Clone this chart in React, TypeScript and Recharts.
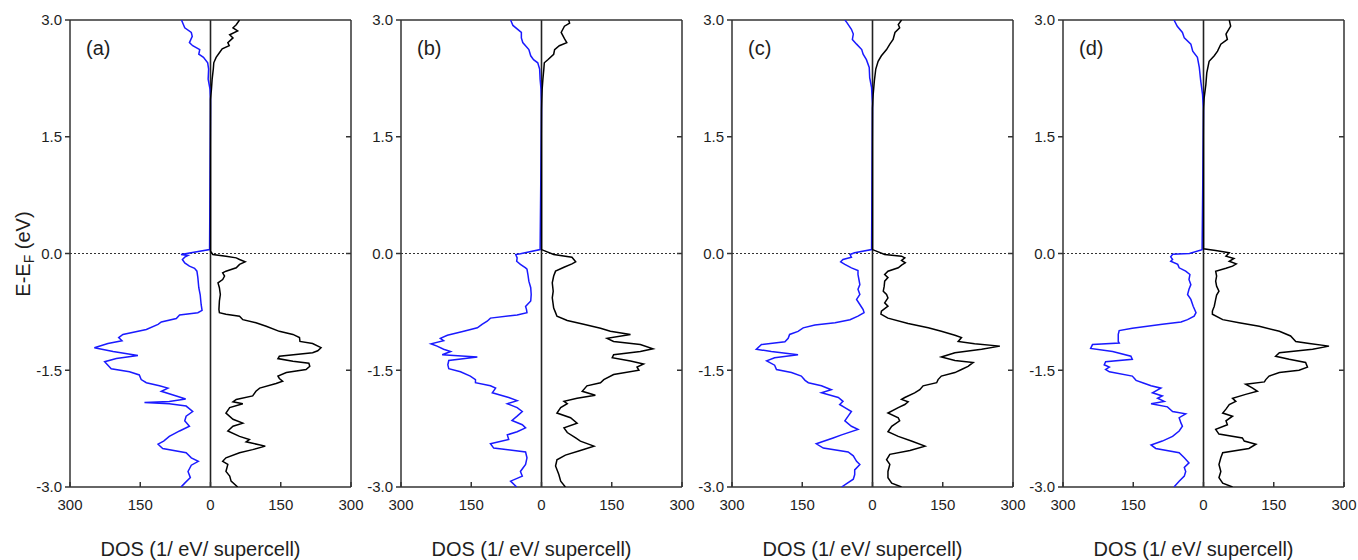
import React from 'react';
import { ScatterChart, Scatter, XAxis, YAxis, ReferenceLine } from 'recharts';

type Pair = [number, number];

const FONT = '"Liberation Sans", Arial, Helvetica, sans-serif';
const xTicks = [-300, -150, 0, 150, 300];
const yTicks = [-3, -1.5, 0, 1.5, 3];
const innerYTicks = [-1.5, 0, 1.5];
const panelLabels = ['(a)', '(b)', '(c)', '(d)'];
const xAxisTitle = 'DOS (1/ eV/ supercell)';

// [energy (eV), DOS] — spin down (blue, drawn to the left) and spin up (black, to the right)
const aDown: Pair[] = [
  [3.0, 62], [2.9, 55], [2.84, 41], [2.79, 39], [2.71, 45], [2.67, 38], [2.62, 23], [2.56, 25], [2.52, 15], [2.45, 6], [2.37, 4], [2.24, 5], [2.11, 1], [1.98, 0], [1.88, 0],
  [0.05, 2], [-0.013, 63], [-0.026, 48], [-0.047, 55], [-0.077, 60], [-0.12, 55], [-0.163, 45], [-0.19, 34], [-0.227, 29], [-0.31, 27], [-0.44, 25], [-0.53, 22], [-0.655, 20], [-0.73, 18], [-0.76, 27], [-0.79, 66], [-0.835, 73], [-0.88, 105], [-0.91, 112], [-0.976, 137], [-1.04, 187], [-1.08, 196], [-1.12, 189], [-1.156, 219], [-1.21, 248], [-1.26, 208], [-1.31, 155], [-1.35, 201], [-1.39, 226], [-1.435, 219], [-1.48, 212], [-1.52, 173], [-1.56, 152], [-1.62, 148], [-1.66, 137], [-1.7, 109], [-1.73, 91], [-1.77, 105], [-1.83, 73], [-1.87, 53], [-1.9, 88], [-1.915, 141], [-1.93, 88], [-1.96, 52], [-2.03, 38], [-2.09, 52], [-2.15, 55], [-2.22, 45], [-2.28, 66], [-2.35, 88], [-2.41, 100], [-2.45, 112], [-2.505, 102], [-2.56, 52], [-2.625, 41], [-2.67, 26], [-2.72, 41], [-2.8, 48], [-2.88, 43], [-2.95, 55], [-3.0, 63],
];
const aUp: Pair[] = [
  [3.0, 62], [2.94, 55], [2.9, 48], [2.86, 58], [2.81, 41], [2.77, 48], [2.71, 37], [2.67, 40], [2.63, 25], [2.58, 19], [2.52, 12], [2.45, 7], [2.37, 6], [2.24, 3.5], [2.11, 2], [1.98, 0], [1.88, 0],
  [0.03, 0], [-0.013, 5], [-0.034, 33], [-0.056, 55], [-0.077, 62], [-0.107, 74], [-0.14, 62], [-0.184, 55], [-0.227, 33], [-0.248, 26], [-0.29, 30], [-0.334, 26], [-0.377, 16], [-0.44, 19], [-0.527, 21], [-0.61, 19], [-0.72, 18], [-0.76, 19], [-0.78, 33], [-0.805, 62], [-0.85, 69], [-0.89, 97], [-0.934, 119], [-1.0, 147], [-1.04, 176], [-1.08, 190], [-1.13, 191], [-1.156, 218], [-1.21, 236], [-1.25, 229], [-1.276, 218], [-1.32, 147], [-1.35, 144], [-1.383, 176], [-1.41, 210], [-1.45, 212], [-1.49, 204], [-1.53, 162], [-1.575, 144], [-1.606, 147], [-1.64, 154], [-1.67, 140], [-1.73, 105], [-1.77, 97], [-1.83, 90], [-1.875, 55], [-1.906, 48], [-1.93, 69], [-1.98, 41], [-2.05, 33], [-2.13, 48], [-2.18, 69], [-2.22, 48], [-2.28, 37], [-2.35, 62], [-2.39, 83], [-2.42, 76], [-2.475, 117], [-2.52, 90], [-2.56, 62], [-2.625, 33], [-2.67, 26], [-2.71, 37], [-2.8, 33], [-2.86, 41], [-2.925, 44], [-3.0, 58],
];
const bDown: Pair[] = [
  [3.0, 66], [2.93, 61], [2.84, 43], [2.77, 43], [2.71, 40], [2.62, 27], [2.54, 23], [2.49, 17], [2.45, 8], [2.37, 4], [2.24, 3], [2.11, 1], [1.85, 0],
  [0.05, 3], [-0.004, 45], [-0.013, 55], [-0.056, 52], [-0.1, 53], [-0.14, 45], [-0.184, 34], [-0.2, 31], [-0.27, 29], [-0.355, 27], [-0.44, 23], [-0.527, 22], [-0.61, 23], [-0.68, 34], [-0.72, 32], [-0.76, 31], [-0.79, 52], [-0.83, 109], [-0.87, 116], [-0.91, 127], [-0.955, 137], [-1.0, 166], [-1.05, 201], [-1.09, 216], [-1.12, 209], [-1.16, 236], [-1.19, 223], [-1.23, 209], [-1.26, 194], [-1.3, 212], [-1.33, 137], [-1.375, 198], [-1.43, 200], [-1.48, 198], [-1.52, 173], [-1.575, 152], [-1.62, 141], [-1.66, 141], [-1.7, 109], [-1.73, 98], [-1.79, 105], [-1.85, 70], [-1.89, 52], [-1.93, 73], [-1.98, 52], [-2.03, 41], [-2.09, 52], [-2.145, 63], [-2.2, 41], [-2.24, 34], [-2.29, 52], [-2.33, 73], [-2.39, 70], [-2.445, 109], [-2.5, 102], [-2.55, 34], [-2.625, 31], [-2.71, 34], [-2.8, 45], [-2.86, 41], [-2.925, 66], [-3.0, 53],
];
const bUp: Pair[] = [
  [3.0, 58], [2.96, 60], [2.92, 49], [2.84, 42], [2.76, 49], [2.71, 54], [2.67, 38], [2.62, 28], [2.56, 26], [2.49, 13.5], [2.45, 6], [2.37, 5], [2.24, 3], [2.11, 1.4], [1.85, 0],
  [0.05, 0], [-0.013, 26], [-0.047, 65], [-0.077, 69], [-0.107, 73], [-0.133, 65], [-0.176, 48], [-0.227, 30], [-0.29, 26], [-0.377, 23], [-0.484, 25], [-0.57, 23], [-0.7, 26], [-0.76, 30], [-0.805, 33], [-0.86, 55], [-0.91, 90], [-0.96, 126], [-1.0, 147], [-1.04, 190], [-1.09, 140], [-1.13, 154], [-1.17, 211], [-1.225, 238], [-1.26, 211], [-1.3, 154], [-1.34, 151], [-1.38, 190], [-1.42, 218], [-1.46, 204], [-1.5, 208], [-1.555, 154], [-1.62, 133], [-1.66, 126], [-1.7, 97], [-1.77, 87], [-1.82, 115], [-1.86, 76], [-1.9, 48], [-1.93, 55], [-1.98, 41], [-2.05, 33], [-2.11, 62], [-2.18, 76], [-2.24, 48], [-2.3, 55], [-2.37, 73], [-2.41, 83], [-2.475, 112], [-2.53, 83], [-2.59, 51], [-2.65, 33], [-2.73, 30], [-2.84, 37], [-2.925, 41], [-3.0, 51],
];
const cDown: Pair[] = [
  [3.0, 59], [2.97, 55], [2.88, 45], [2.82, 41], [2.75, 43], [2.69, 34], [2.62, 23], [2.56, 20], [2.49, 13], [2.39, 7], [2.26, 6], [2.13, 2], [1.92, 0],
  [0.05, 2], [0.01, 38], [-0.013, 48], [-0.047, 45], [-0.077, 63], [-0.107, 68], [-0.14, 59], [-0.184, 45], [-0.218, 31], [-0.27, 31], [-0.334, 29], [-0.4, 27], [-0.46, 31], [-0.527, 27], [-0.59, 34], [-0.655, 27], [-0.72, 20], [-0.76, 18], [-0.805, 31], [-0.85, 48], [-0.89, 80], [-0.92, 123], [-0.955, 148], [-1.0, 159], [-1.04, 177], [-1.09, 180], [-1.135, 187], [-1.17, 237], [-1.23, 248], [-1.26, 216], [-1.3, 159], [-1.34, 209], [-1.38, 226], [-1.435, 209], [-1.49, 205], [-1.53, 173], [-1.575, 152], [-1.63, 144], [-1.66, 137], [-1.7, 109], [-1.75, 88], [-1.79, 109], [-1.85, 73], [-1.9, 63], [-1.94, 70], [-1.98, 59], [-2.03, 45], [-2.09, 52], [-2.15, 59], [-2.22, 45], [-2.26, 31], [-2.33, 66], [-2.37, 84], [-2.445, 120], [-2.5, 105], [-2.55, 52], [-2.6, 41], [-2.67, 34], [-2.71, 27], [-2.78, 38], [-2.84, 38], [-2.9, 41], [-2.96, 56], [-3.0, 66],
];
const cUp: Pair[] = [
  [3.0, 62], [2.94, 55], [2.9, 58], [2.84, 48], [2.75, 44], [2.69, 37], [2.62, 30], [2.54, 19], [2.47, 12], [2.37, 7], [2.22, 4], [2.04, 1.4], [1.87, 0],
  [0.05, 0], [-0.013, 26], [-0.034, 62], [-0.056, 69], [-0.09, 62], [-0.12, 70], [-0.15, 62], [-0.184, 55], [-0.227, 33], [-0.27, 26], [-0.31, 33], [-0.355, 26], [-0.42, 25], [-0.484, 23], [-0.527, 30], [-0.57, 33], [-0.634, 26], [-0.677, 33], [-0.74, 19], [-0.78, 18], [-0.83, 33], [-0.9, 76], [-0.955, 119], [-1.0, 147], [-1.05, 176], [-1.08, 190], [-1.13, 183], [-1.16, 218], [-1.19, 272], [-1.23, 233], [-1.276, 176], [-1.33, 147], [-1.375, 176], [-1.4, 215], [-1.45, 204], [-1.49, 190], [-1.53, 176], [-1.575, 147], [-1.62, 140], [-1.66, 137], [-1.7, 108], [-1.75, 101], [-1.79, 90], [-1.85, 69], [-1.875, 62], [-1.906, 76], [-1.94, 69], [-1.98, 55], [-2.05, 33], [-2.11, 55], [-2.15, 58], [-2.22, 41], [-2.29, 33], [-2.35, 55], [-2.41, 83], [-2.475, 112], [-2.53, 80], [-2.58, 37], [-2.65, 30], [-2.71, 37], [-2.8, 33], [-2.88, 33], [-2.95, 41], [-3.0, 62],
];
const dDown: Pair[] = [
  [3.0, 63], [2.92, 56], [2.84, 45], [2.77, 41], [2.69, 27], [2.6, 23], [2.52, 13], [2.39, 9], [2.22, 6], [2.04, 2], [1.83, 0],
  [0.05, 3], [0.0, 30], [-0.01, 66], [-0.043, 70], [-0.077, 66], [-0.1, 70], [-0.14, 55], [-0.184, 52], [-0.227, 38], [-0.27, 29], [-0.334, 31], [-0.4, 27], [-0.46, 31], [-0.527, 34], [-0.59, 27], [-0.677, 22], [-0.76, 16], [-0.805, 20], [-0.85, 34], [-0.88, 48], [-0.91, 88], [-0.96, 152], [-0.99, 180], [-1.04, 182], [-1.13, 182], [-1.15, 180], [-1.17, 237], [-1.22, 241], [-1.26, 194], [-1.32, 155], [-1.36, 152], [-1.39, 209], [-1.43, 212], [-1.46, 201], [-1.49, 209], [-1.52, 201], [-1.575, 152], [-1.63, 144], [-1.66, 130], [-1.7, 112], [-1.73, 91], [-1.79, 109], [-1.83, 88], [-1.86, 98], [-1.9, 84], [-1.93, 112], [-1.97, 77], [-2.03, 66], [-2.06, 38], [-2.11, 52], [-2.18, 48], [-2.22, 45], [-2.28, 52], [-2.35, 66], [-2.41, 88], [-2.46, 112], [-2.505, 102], [-2.56, 52], [-2.625, 41], [-2.69, 31], [-2.75, 41], [-2.8, 38], [-2.86, 41], [-2.925, 52], [-3.0, 63],
];
const dUp: Pair[] = [
  [3.0, 55], [2.92, 58], [2.82, 48], [2.75, 51], [2.69, 37], [2.6, 30], [2.54, 23], [2.47, 12], [2.32, 7], [2.17, 5], [2.0, 1.4], [1.83, 0],
  [0.06, 0], [0.04, 26], [0.01, 55], [-0.034, 48], [-0.064, 65], [-0.1, 55], [-0.133, 70], [-0.163, 62], [-0.19, 48], [-0.227, 26], [-0.29, 28], [-0.355, 26], [-0.42, 28], [-0.484, 33], [-0.535, 28], [-0.59, 26], [-0.677, 23], [-0.74, 19], [-0.78, 19], [-0.85, 41], [-0.89, 76], [-0.934, 119], [-1.0, 162], [-1.06, 186], [-1.13, 197], [-1.156, 226], [-1.19, 268], [-1.23, 233], [-1.276, 162], [-1.32, 154], [-1.36, 183], [-1.4, 218], [-1.46, 222], [-1.5, 204], [-1.53, 162], [-1.575, 140], [-1.62, 133], [-1.65, 130], [-1.68, 90], [-1.73, 105], [-1.77, 115], [-1.81, 90], [-1.86, 62], [-1.9, 69], [-1.94, 55], [-2.0, 48], [-2.05, 41], [-2.09, 62], [-2.15, 48], [-2.2, 51], [-2.26, 26], [-2.32, 33], [-2.37, 83], [-2.41, 87], [-2.45, 112], [-2.505, 97], [-2.56, 41], [-2.625, 37], [-2.71, 33], [-2.8, 37], [-2.88, 33], [-2.95, 41], [-3.0, 62],
];

const panels = [
  { label: panelLabels[0], down: aDown, up: aUp },
  { label: panelLabels[1], down: bDown, up: bUp },
  { label: panelLabels[2], down: cDown, up: cUp },
  { label: panelLabels[3], down: dDown, up: dUp },
];

const PLOT_LEFT0 = 70;
const PANEL_STEP = 331;
const PLOT_W = 281;
const AXIS_W = 60;
const RIGHT_PAD = 13;
const CHART_W = AXIS_W + PLOT_W + RIGHT_PAD;
const CHART_H = 560;
const AXIS_COLOR = '#333';
const TEXT_COLOR = '#1e1e1e';
const BLUE = '#1a1aff';

const NoShape = () => <g />;
const NoTick = () => <g />;

function Panel({ index, down, up }: { index: number; down: Pair[]; up: Pair[] }) {
  const left = PLOT_LEFT0 + index * PANEL_STEP - AXIS_W;
  const downData = down.map(([e, d]) => ({ e, dos: -d }));
  const upData = up.map(([e, d]) => ({ e, dos: d }));
  const tickStyle = { fill: TEXT_COLOR, fontSize: 15, fontFamily: FONT };
  return (
    <div style={{ position: 'absolute', left, top: 0 }}>
      <ScatterChart width={CHART_W} height={CHART_H} margin={{ top: 20, right: RIGHT_PAD, bottom: 0, left: 0 }}>
        <XAxis
          type="number"
          dataKey="dos"
          domain={[-300, 300]}
          allowDataOverflow
          ticks={xTicks}
          interval={0}
          height={73}
          tickSize={-5}
          tickMargin={17}
          tick={tickStyle}
          tickFormatter={(v: number) => String(Math.abs(v))}
          stroke={AXIS_COLOR}
          strokeWidth={1.5}
        />
        <XAxis
          xAxisId="top"
          orientation="top"
          mirror
          type="number"
          domain={[-300, 300]}
          allowDataOverflow
          ticks={xTicks}
          interval={0}
          tickSize={5}
          tick={NoTick}
          stroke={AXIS_COLOR}
          strokeWidth={1.5}
        />
        <YAxis
          type="number"
          dataKey="e"
          domain={[-3, 3]}
          allowDataOverflow
          ticks={yTicks}
          interval={0}
          width={AXIS_W}
          tickSize={5}
          tickMargin={3}
          tick={tickStyle}
          tickFormatter={(v: number) => v.toFixed(1)}
          stroke={AXIS_COLOR}
          strokeWidth={1.5}
        />
        <YAxis
          yAxisId="right"
          orientation="right"
          mirror
          type="number"
          domain={[-3, 3]}
          allowDataOverflow
          ticks={innerYTicks}
          interval={0}
          tickSize={5}
          tick={NoTick}
          stroke={AXIS_COLOR}
          strokeWidth={1.5}
        />
        <ReferenceLine y={0} stroke="#333" strokeWidth={1} strokeDasharray="2 2" />
        <Scatter
          data={downData}
          line={{ stroke: BLUE, strokeWidth: 1.5 }}
          lineType="joint"
          shape={NoShape}
          isAnimationActive={false}
        />
        <Scatter
          data={upData}
          line={{ stroke: '#000', strokeWidth: 1.5 }}
          lineType="joint"
          shape={NoShape}
          isAnimationActive={false}
        />
        <ReferenceLine x={0} stroke="#222" strokeWidth={1.6} />
      </ScatterChart>
    </div>
  );
}

export default function App() {
  return (
    <div
      style={{
        position: 'absolute',
        left: 0,
        top: 0,
        width: 1358,
        height: 560,
        overflow: 'hidden',
        background: '#fff',
        fontFamily: FONT,
      }}
    >
      {panels.map((p, i) => (
        <Panel key={p.label} index={i} down={p.down} up={p.up} />
      ))}
      <svg
        width={1358}
        height={560}
        style={{ position: 'absolute', left: 0, top: 0, pointerEvents: 'none' }}
      >
        {panels.map((p, i) => {
          const pl = PLOT_LEFT0 + i * PANEL_STEP;
          return (
            <g key={p.label}>
              <text x={pl + 16} y={55} fontSize={20} fill={TEXT_COLOR} fontFamily={FONT}>
                {p.label}
              </text>
              <text x={pl + PLOT_W / 2 - 10} y={556} fontSize={20} fill={TEXT_COLOR} fontFamily={FONT} textAnchor="middle">
                {xAxisTitle}
              </text>
            </g>
          );
        })}
        <text transform="rotate(-90)" x={-254} y={30} fontSize={20} fill={TEXT_COLOR} fontFamily={FONT} textAnchor="middle">
          E-E<tspan fontSize={14} dy={4}>F</tspan>
          <tspan dy={-4}> (eV)</tspan>
        </text>
      </svg>
    </div>
  );
}
